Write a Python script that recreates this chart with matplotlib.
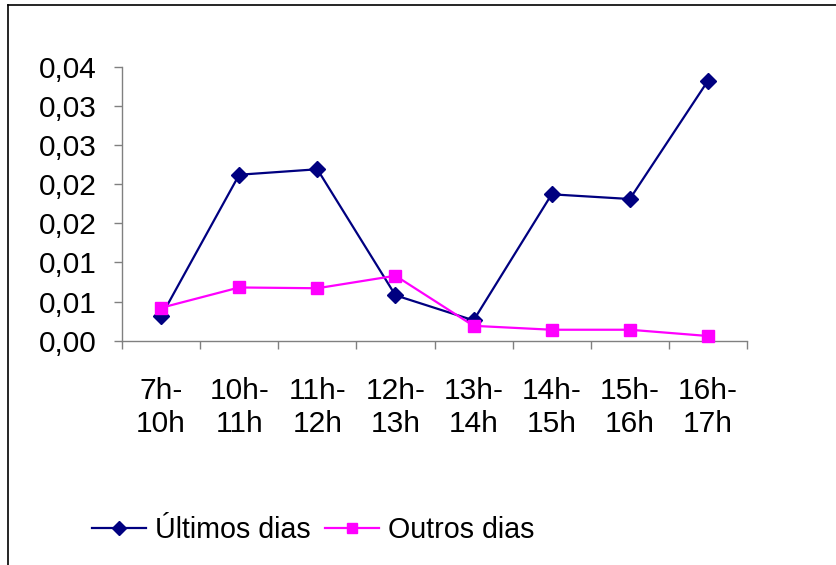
import matplotlib
matplotlib.use("Agg")
import matplotlib.pyplot as plt
from matplotlib.lines import Line2D

plt.rcParams['font.family'] = ['Liberation Sans', 'DejaVu Sans']

categories = ["7h-\n10h", "10h-\n11h", "11h-\n12h", "12h-\n13h",
              "13h-\n14h", "14h-\n15h", "15h-\n16h", "16h-\n17h"]
ultimos_dias = [0.0031, 0.0212, 0.0219, 0.0058, 0.0026, 0.0187, 0.0181, 0.0332]
outros_dias = [0.0042, 0.0068, 0.0067, 0.0083, 0.0019, 0.0014, 0.0014, 0.0006]
y_ticks = [0.0, 0.005, 0.010, 0.015, 0.020, 0.025, 0.030, 0.035]
y_tick_labels = ["0,00", "0,01", "0,01", "0,02", "0,02", "0,03", "0,03", "0,04"]

fig = plt.figure(figsize=(8.36, 5.65), dpi=100)
ax = fig.add_axes([122/836, 1-340.7/565, (747-122)/836, (340.7-66.7)/565])

x = [i + 0.5 for i in range(len(categories))]
ax.plot(x, ultimos_dias, color='#000080', lw=1.6, marker='D', ms=8.5,
        label='Últimos dias', clip_on=False, zorder=3)
ax.plot(x, outros_dias, color='#FF00FF', lw=1.6, marker='s', ms=8.5,
        label='Outros dias', clip_on=False, zorder=4)

ax.set_xlim(0, len(categories))
ax.set_ylim(0, 0.035)
ax.set_yticks(y_ticks)
ax.set_yticklabels(y_tick_labels, fontsize=21.5)
ax.set_xticks(range(len(categories) + 1))
ax.set_xticklabels([])
ax.set_xticks(x, minor=True)
ax.set_xticklabels(categories, minor=True, fontsize=21.5, linespacing=1.25)
ax.tick_params(axis='x', which='minor', length=0, pad=26)
ax.tick_params(axis='x', which='major', length=6, color='#808080', width=1)
ax.tick_params(axis='y', length=6, color='#808080', width=1, pad=12)

for s in ('top', 'right'):
    ax.spines[s].set_visible(False)
for s in ('left', 'bottom'):
    ax.spines[s].set_color('#808080')
    ax.spines[s].set_linewidth(1)

# chart area border (left and top edges)
fig.add_artist(Line2D([8/836, 8/836], [0, 1-5/565], transform=fig.transFigure,
                      color='black', lw=1.2))
fig.add_artist(Line2D([8/836, 1], [1-5/565, 1-5/565], transform=fig.transFigure,
                      color='black', lw=1.2))

fig.legend(loc='center left', bbox_to_anchor=(92/836, 1-530/565), ncol=2,
           frameon=False, fontsize=20.6, borderpad=0, borderaxespad=0,
           handlelength=1.9, handletextpad=0.3, columnspacing=0.5,
           markerscale=0.8)

fig.savefig('out.png', dpi=100)
